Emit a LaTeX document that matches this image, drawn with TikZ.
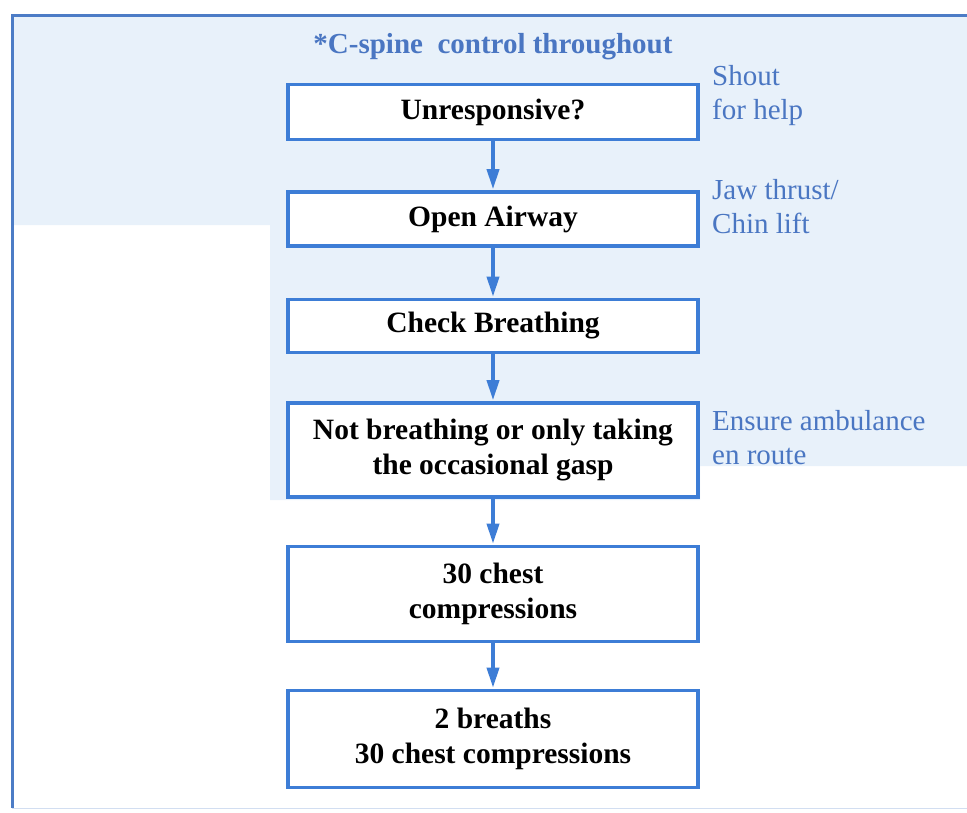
\documentclass[tikz,border=0pt]{standalone}
\usepackage{fontspec}
\setmainfont{Liberation Serif}
\usetikzlibrary{arrows.meta}
\definecolor{flowblue}{HTML}{3D7DD6}
\definecolor{noteblue}{HTML}{4A76C2}
\definecolor{framebl}{HTML}{4C7CC6}
\definecolor{tint}{HTML}{E8F1FA}
\tikzset{
  stepbox/.style={draw=flowblue, line width=3.6pt, fill=white, text=black,
    minimum width=410pt, align=center, inner sep=0pt,
    font=\bfseries\fontsize{29.5}{35}\selectfont},
  note/.style={anchor=west, align=left, text=noteblue, inner sep=0pt,
    font=\fontsize{29}{34}\selectfont},
  flow/.style={draw=flowblue, line width=3.6pt,
    -{Triangle[length=20pt,width=12pt]}, shorten >=1pt}
}
\begin{document}
\begin{tikzpicture}[x=1pt,y=-1pt]
\useasboundingbox (0,0) rectangle (967,812);
% tinted panel behind the upper part of the chart
\fill[tint] (13,15) -- (967,15) -- (967,466) -- (700,466) -- (700,500)
  -- (270,500) -- (270,225) -- (13,225) -- cycle;
% outer frame
\draw[framebl, line width=3pt] (967,15) -- (12,15) -- (12,808);
\draw[framebl!25, line width=1pt] (12,808) -- (967,808);

\node[text=noteblue, font=\bfseries\fontsize{29}{34}\selectfont] (title) at (493,47) {*C-spine\ \ control throughout};

\node[stepbox, minimum height=55pt] (b1) at (493,112) {Unresponsive?};
\node[stepbox, minimum height=54pt] (b2) at (493,219) {Open Airway};
\node[stepbox, minimum height=53pt] (b3) at (493,326) {Check Breathing};
\node[stepbox, minimum height=94pt] (b4) at (493,450) {Not breathing or only taking\\the occasional gasp};
\node[stepbox, minimum height=95pt] (b5) at (493,594) {30 chest\\compressions};
\node[stepbox, minimum height=97pt] (b6) at (493,739) {2 breaths\\30 chest compressions};

\node[note] (n1) at (712,96) {Shout\\for help};
\node[note] (n2) at (712,207) {Jaw thrust/\\Chin lift};
\node[note] (n3) at (712,438) {Ensure ambulance\\en route};

\draw[flow] (b1.south) -- (b2.north);
\draw[flow] (b2.south) -- (b3.north);
\draw[flow] (b3.south) -- (b4.north);
\draw[flow] (b4.south) -- (b5.north);
\draw[flow] (b5.south) -- (b6.north);
\end{tikzpicture}
\end{document}
